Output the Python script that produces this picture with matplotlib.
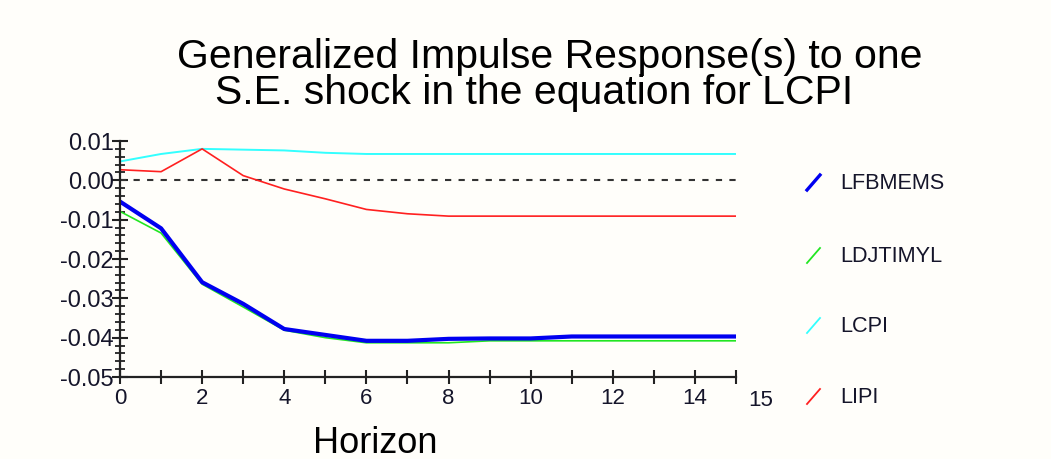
import matplotlib.pyplot as plt
from matplotlib.lines import Line2D
from matplotlib.ticker import MultipleLocator
import numpy as np

plt.rcParams['font.family'] = ['Liberation Sans', 'DejaVu Sans']

# horizon and responses
horizon = np.arange(16)
lfbmems = [-0.0054, -0.0122, -0.0259, -0.0314, -0.0378, -0.0393, -0.0408, -0.0408,
           -0.0403, -0.0402, -0.0402, -0.0397, -0.0397, -0.0397, -0.0397, -0.0397]
ldjtimyl = [-0.0079, -0.0134, -0.0264, -0.0322, -0.0381, -0.0400, -0.0413, -0.0413,
            -0.0413, -0.0408, -0.0408, -0.0408, -0.0408, -0.0408, -0.0408, -0.0408]
lcpi = [0.0048, 0.0067, 0.0080, 0.0078, 0.0076, 0.0070, 0.0067, 0.0067,
        0.0067, 0.0067, 0.0067, 0.0067, 0.0067, 0.0067, 0.0067, 0.0067]
lipi = [0.0027, 0.0022, 0.0080, 0.0012, -0.0022, -0.0047, -0.0074, -0.0085,
        -0.0091, -0.0091, -0.0091, -0.0091, -0.0091, -0.0091, -0.0091, -0.0091]
y_ticks = [-0.05, -0.04, -0.03, -0.02, -0.01, 0.00, 0.01]
y_labels = ['-0.05', '-0.04', '-0.03', '-0.02', '-0.01', '0.00', '0.01']

series_names = ['LFBMEMS', 'LDJTIMYL', 'LCPI', 'LIPI']
series_colors = ['#0000f0', '#22e622', '#33ffff', '#ff2020']
series_widths = [3.0, 1.2, 1.4, 1.2]

bg = '#fffefa'
ink = '#15152a'

fig = plt.figure(figsize=(10.51, 4.59), dpi=100, facecolor=bg)
ax = fig.add_axes([120 / 1051, 1 - 377 / 459, 616 / 1051, 236 / 459], facecolor=bg)

ax.axhline(0, color='#333333', lw=1.5, ls=(0, (3, 3.5)))
ax.plot(horizon, lcpi, color=series_colors[2], lw=series_widths[2])
ax.plot(horizon, lipi, color=series_colors[3], lw=series_widths[3])
ax.plot(horizon, ldjtimyl, color=series_colors[1], lw=series_widths[1])
ax.plot(horizon, lfbmems, color=series_colors[0], lw=series_widths[0])

ax.set_xlim(0, 15)
ax.set_ylim(-0.05, 0.01)
for s in ['top', 'right']:
    ax.spines[s].set_visible(False)
for s in ['left', 'bottom']:
    ax.spines[s].set_linewidth(1.6)
    ax.spines[s].set_color('#222222')

ax.set_xticks(range(16))
ax.set_xticklabels([str(i) if i % 2 == 0 and i < 15 else '' for i in range(16)])
ax.set_yticks(y_ticks)
ax.set_yticklabels(y_labels)
ax.yaxis.set_minor_locator(MultipleLocator(0.002))
ax.tick_params(axis='y', which='major', direction='inout', length=11, width=1.5,
               labelsize=17, pad=-1, labelcolor=ink, color='#222222')
ax.tick_params(axis='y', which='minor', direction='inout', length=7, width=1.3, color='#222222')
ax.tick_params(axis='x', direction='inout', length=10, width=1.5, labelsize=16,
               pad=3, labelcolor=ink, color='#222222')
ax.annotate('15', xy=(15, 0), xycoords=('data', 'axes fraction'), xytext=(18, -9),
            textcoords='offset points', ha='center', va='top', fontsize=16, color=ink)

fig.text(550 / 1051, 1 - 68 / 459, 'Generalized Impulse Response(s) to one',
         ha='center', va='baseline', fontsize=29.5, color='black')
fig.text(534 / 1051, 1 - 104 / 459, 'S.E. shock in the equation for LCPI',
         ha='center', va='baseline', fontsize=29.5, color='black')
fig.text(375 / 1051, 1 - 453 / 459, 'Horizon', ha='center', va='baseline',
         fontsize=26, color='black')

# legend on the right: short slanted strokes with names
legend_y = [182, 255, 325, 396]
for name, c, w, yp in zip(series_names, series_colors, series_widths, legend_y):
    fig.add_artist(Line2D([807 / 1051, 820 / 1051], [1 - (yp + 8) / 459, 1 - (yp - 7) / 459],
                          color=c, lw=max(w * 0.8, 1.3), transform=fig.transFigure))
    fig.text(840 / 1051, 1 - (yp + 7) / 459, name, ha='left', va='baseline',
             fontsize=15.6, color=ink)

fig.savefig('out.png', dpi=100, facecolor=bg)
